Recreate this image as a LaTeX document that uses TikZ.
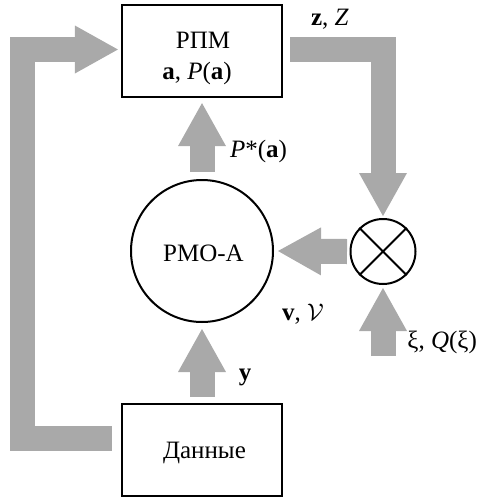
\documentclass[tikz,border=0pt]{standalone}
\usepackage{fontspec}
\setmainfont{Liberation Serif}
\usetikzlibrary{arrows.meta}
\definecolor{arrowgray}{RGB}{169,169,169}
\begin{document}
\begin{tikzpicture}[x=0.5pt,y=-0.5pt,
  every node/.style={font=\fontsize{12.5}{15}\selectfont},
  blockbox/.style={draw, line width=1.1pt, minimum width=80pt, minimum height=46pt, inner sep=0pt, align=center},
  roundbox/.style={draw, circle, line width=1pt, inner sep=0pt},
  big/.style={draw=arrowgray, line width=12.5pt, line join=miter, line cap=butt,
    -{Triangle[width=24pt,length=21.5pt,line width=0pt]}},
  lab/.style={inner sep=0pt}]
\useasboundingbox (0,0) rectangle (479,499);
\node[blockbox] (rpm) at (202,51) {};
\node[lab] (rpmname) at (203,40) {РПМ};
\node[lab] (rpmvars) at (197,73.5) {\textbf{a}, \textit{P}(\textbf{a})};
\node[blockbox] (dan) at (202,450) {};
\node[lab] (danname) at (204.5,453) {Данные};
\node[roundbox, minimum size=71pt] (pmo) at (202,251) {};
\node[lab] (pmoname) at (203.5,253) {РМО-А};
\node[roundbox, minimum size=32.5pt] (mix) at (383,251.5) {};
\draw[line width=1pt] (mix.north west) -- (mix.south east) (mix.north east) -- (mix.south west);
\coordinate (xistart) at (383,356);
\coordinate (loopcorner) at (22.5,49.5);
% arrows
\draw[big] ([xshift=-4.5pt,yshift=6pt]dan.west) -| (loopcorner) -- ([xshift=-1.5pt,yshift=0.75pt]rpm.west);
\draw[big] ([xshift=3.5pt,yshift=1pt]rpm.east) -| ([yshift=1pt]mix.north);
\draw[big] ([yshift=3.5pt]pmo.north) -- ([yshift=-2.5pt]rpm.south);
\draw[big] ([xshift=-1.25pt]mix.west) -- ([xshift=2pt]pmo.east);
\draw[big] (xistart) -- ([yshift=-1.5pt]mix.south);
\draw[big] ([yshift=3pt]dan.north) -- ([yshift=-3pt]pmo.south);
% labels
\node[lab] (lz) at (330,19) {\textbf{z}, \textit{Z}};
\node[lab] (lp) at (258.5,151) {\textit{P}*(\textbf{a})};
\node[lab] (lv) at (303,314) {\textbf{v}, $\mathcal{V}$};
\node[lab, anchor=west] (lxi) at (407,342) {ξ, \textit{Q}(ξ)};
\node[lab] (ly) at (245,377) {\textbf{y}};
\end{tikzpicture}
\end{document}
